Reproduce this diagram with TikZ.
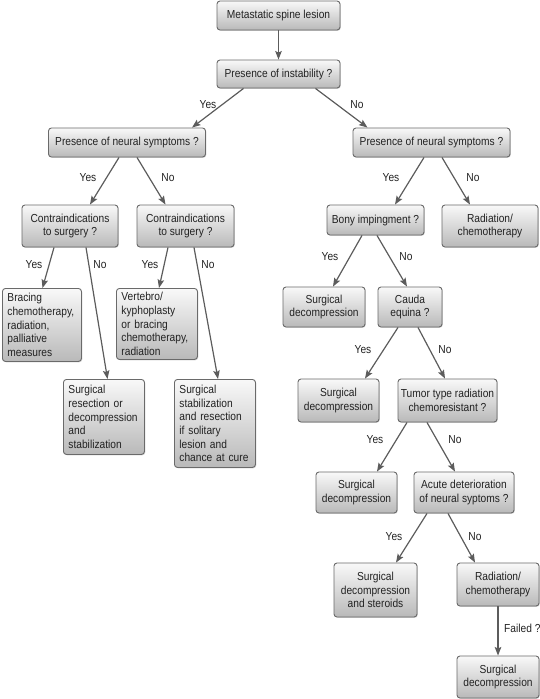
\documentclass[tikz,border=0pt]{standalone}
\usepackage{fontspec}
\setmainfont[FakeStretch=0.88]{Liberation Sans}
\usetikzlibrary{arrows.meta,positioning,shadows}
\definecolor{boxline}{HTML}{6A6A6A}
\definecolor{arrowgray}{HTML}{5C5C5C}
\definecolor{textgray}{HTML}{222222}

\begin{document}
\begin{tikzpicture}[x=1pt, y=-1pt,
  font=\fontsize{11.6}{13.6}\selectfont, text=textgray,
  box/.style={rectangle, rounded corners=3pt, draw=boxline, line width=0.9pt, top color=gray!5, bottom color=gray!55, align=center, inner sep=2pt, drop shadow={shadow xshift=0.8pt, shadow yshift=-0.8pt, opacity=0.35}},
  leftbox/.style={box, align=left, anchor=north west, inner xsep=5pt, inner ysep=2pt},
  arrow/.style={-{Stealth[length=8.5pt, width=6.5pt, inset=1.5pt]}, line width=1.2pt, draw=arrowgray},
  lbl/.style={inner sep=1pt}
]
\useasboundingbox (0,0) rectangle (540,699);

% top of the tree
\node[box, minimum width=123pt, minimum height=29pt] (lesion) at (278.5,15.5) {Metastatic spine lesion};
\node[box, minimum width=123pt, minimum height=28pt] (instab) at (278.5,74) {Presence of instability ?};
\node[box, minimum width=157pt, minimum height=29pt] (neurL) at (127,142.5) {Presence of neural symptoms ?};
\node[box, minimum width=157pt, minimum height=29pt] (neurR) at (431.5,142.5) {Presence of neural symptoms ?};

% left branch
\node[box, minimum width=96pt, minimum height=42pt] (contraL) at (70,226) {Contraindications\\to surgery ?};
\node[box, minimum width=97pt, minimum height=42pt] (contraR) at (185.5,226) {Contraindications\\to surgery ?};
\node[leftbox, text width=69pt, minimum height=73pt] (bracing) at (2,288) {Bracing\\chemotherapy,\\radiation,\\palliative\\measures};
\node[leftbox, text width=71pt, minimum height=71pt] (vertebro) at (116,288) {Vertebro/\\kyphoplasty\\or bracing\\chemotherapy,\\radiation};
\node[leftbox, text width=71pt, minimum height=75pt] (resect) at (63,379) {Surgical\\resection or\\decompression\\and\\stabilization};
\node[leftbox, text width=71pt, minimum height=88pt] (stabil) at (174,379) {Surgical\\stabilization\\and resection\\if solitary\\lesion and\\chance at cure};

% right branch
\node[box, minimum width=97pt, minimum height=30pt] (bony) at (375.5,220) {Bony impingment ?};
\node[box, minimum width=96pt, minimum height=42pt] (radchemA) at (490,226) {Radiation/\\chemotherapy};
\node[box, minimum width=82pt, minimum height=40pt] (surgdecA) at (324,307) {Surgical\\decompression};
\node[box, minimum width=64pt, minimum height=40pt] (cauda) at (410,307) {Cauda\\equina ?};
\node[box, minimum width=81pt, minimum height=43pt] (surgdecB) at (338.5,400.5) {Surgical\\decompression};
\node[box, minimum width=99pt, minimum height=43pt] (tumor) at (447.5,400.5) {Tumor type radiation\\chemoresistant ?};
\node[box, minimum width=81pt, minimum height=41pt] (surgdecC) at (356.5,492.5) {Surgical\\decompression};
\node[box, minimum width=100pt, minimum height=41pt] (acute) at (464,492.5) {Acute deterioration\\of neural syptoms ?};
\node[box, minimum width=83pt, minimum height=54pt] (steroids) at (375.5,590) {Surgical\\decompression\\and steroids};
\node[box, minimum width=82pt, minimum height=43pt] (radchemB) at (498,584.5) {Radiation/\\chemotherapy};
\node[box, minimum width=82pt, minimum height=42pt] (surgdecD) at (498,677) {Surgical\\decompression};

% arrows
\draw[arrow] (lesion) -- (instab);
\draw[arrow] ([xshift=-35pt]instab.south) -- ([xshift=65pt]neurL.north);
\draw[arrow] ([xshift=37pt]instab.south) -- ([xshift=-64pt]neurR.north);
\draw[arrow] ([xshift=-8pt]neurL.south) -- ([xshift=20pt]contraL.north);
\draw[arrow] ([xshift=10pt]neurL.south) -- ([xshift=-20pt]contraR.north);
\draw[arrow] ([xshift=-16pt]contraL.south) -- ([xshift=40.5pt]bracing.north west);
\draw[arrow] ([xshift=16pt]contraL.south) -- ([xshift=44.5pt]resect.north west);
\draw[arrow] ([xshift=-17.5pt]contraR.south) -- ([xshift=43pt]vertebro.north west);
\draw[arrow] ([xshift=8.5pt]contraR.south) -- ([xshift=44pt]stabil.north west);
\draw[arrow] ([xshift=-7.5pt]neurR.south) -- ([xshift=19.5pt]bony.north);
\draw[arrow] ([xshift=10.5pt]neurR.south) -- ([xshift=-20pt]radchemA.north);
\draw[arrow] ([xshift=-13.5pt]bony.south) -- ([xshift=9pt]surgdecA.north);
\draw[arrow] ([xshift=1.5pt]bony.south) -- ([xshift=-3pt]cauda.north);
\draw[arrow] ([xshift=-12pt]cauda.south) -- ([xshift=26.5pt]surgdecB.north);
\draw[arrow] ([xshift=8pt]cauda.south) -- ([xshift=-2.5pt]tumor.north);
\draw[arrow] ([xshift=-40.5pt]tumor.south) -- ([xshift=20.5pt]surgdecC.north);
\draw[arrow] ([xshift=-20.5pt]tumor.south) -- ([xshift=-9pt]acute.north);
\draw[arrow] ([xshift=-37pt]acute.south) -- ([xshift=20.5pt]steroids.north);
\draw[arrow] ([xshift=-16pt]acute.south) -- ([xshift=-23pt]radchemB.north);
\draw[arrow] (radchemB) -- (surgdecD);

% labels
\node[lbl] (yesA) at (208,105) {Yes};
\node[lbl] (noA) at (357,105) {No};
\node[lbl] (yesB) at (88,178) {Yes};
\node[lbl] (noB) at (168,178) {No};
\node[lbl] (yesC) at (34,265) {Yes};
\node[lbl] (noC) at (100,265) {No};
\node[lbl] (yesD) at (150,265) {Yes};
\node[lbl] (noD) at (208,265) {No};
\node[lbl] (yesE) at (391,178) {Yes};
\node[lbl] (noE) at (473,178) {No};
\node[lbl] (yesF) at (330,257) {Yes};
\node[lbl] (noF) at (406,257) {No};
\node[lbl] (yesG) at (363,350) {Yes};
\node[lbl] (noG) at (445,350) {No};
\node[lbl] (yesH) at (375,440) {Yes};
\node[lbl] (noH) at (455,440) {No};
\node[lbl] (yesI) at (394,537) {Yes};
\node[lbl] (noI) at (475,537) {No};
\node[lbl, anchor=west] (failed) at (503,628) {Failed ?};

\end{tikzpicture}
\end{document}
